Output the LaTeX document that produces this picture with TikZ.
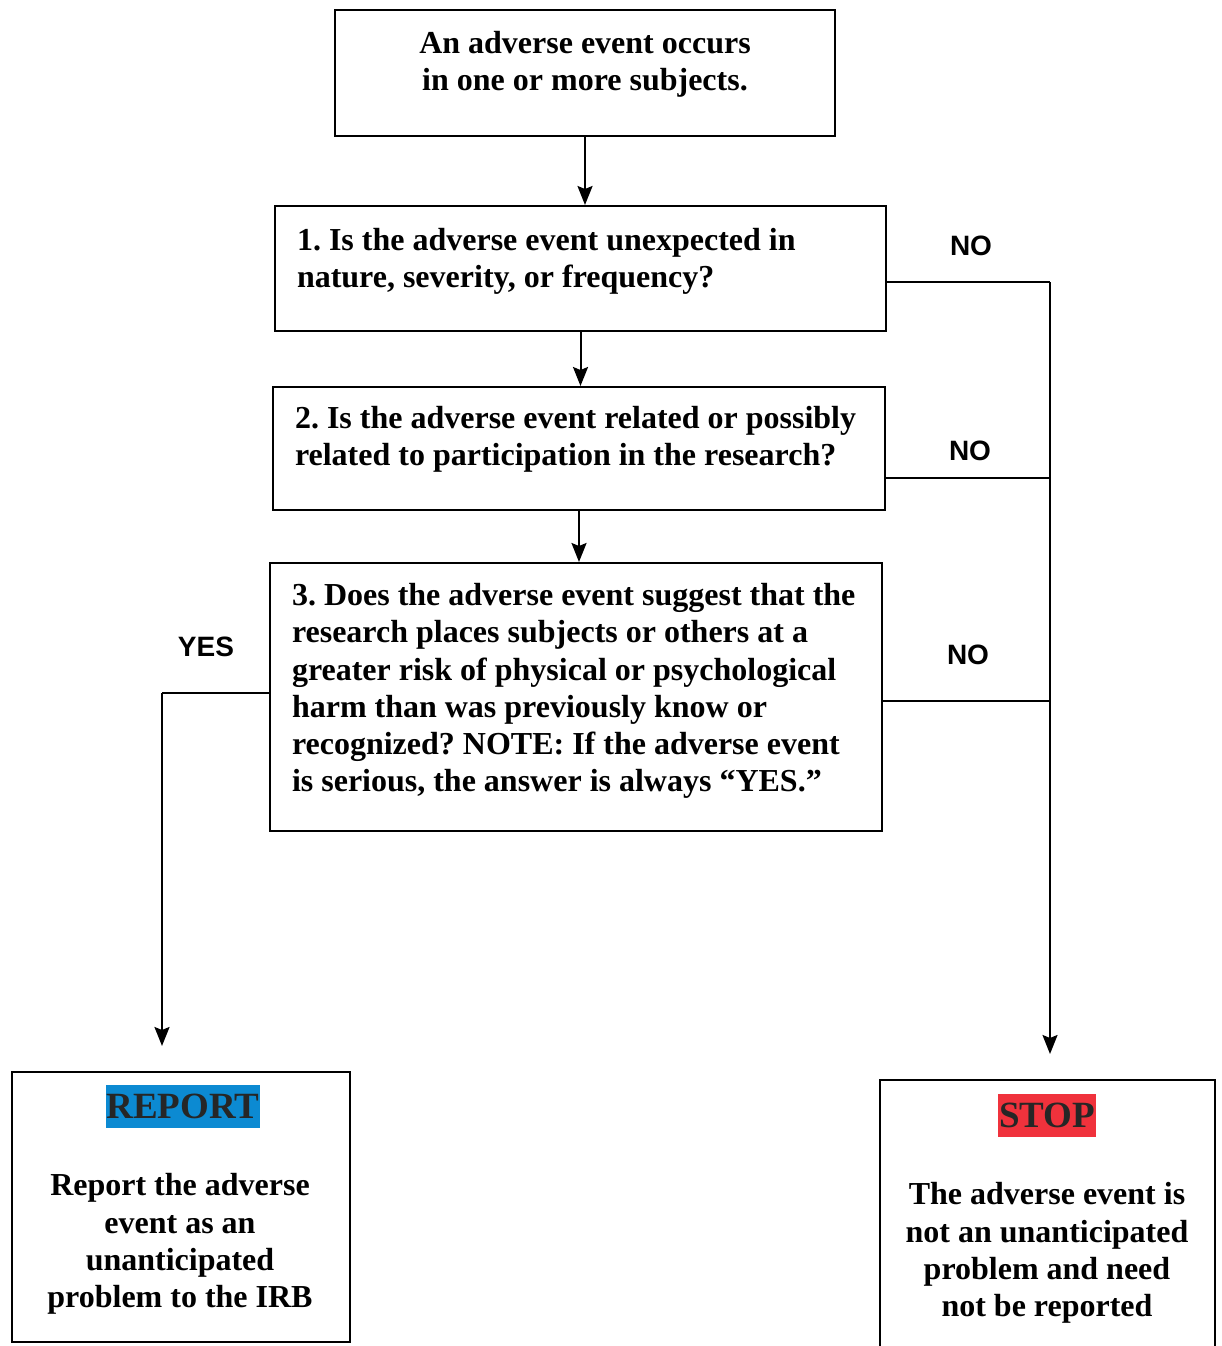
\documentclass[tikz,border=0pt]{standalone}
\usepackage{fontspec}
\setmainfont{Liberation Serif}
\newfontfamily\ansfont{Liberation Sans}
\usepackage{tikz}
\usepackage{xcolor}
\usetikzlibrary{arrows.meta, positioning}
\definecolor{reportblue}{RGB}{12,138,210}
\definecolor{stopred}{RGB}{240,50,60}
\newcommand{\qfont}{\fontsize{16}{18.6}\selectfont\bfseries\frenchspacing}

\begin{document}
\begin{tikzpicture}[x=0.5pt, y=-0.5pt, line width=1pt, arr/.style={-{Stealth[length=9.5pt, width=7.5pt, inset=1.5pt]}},
    box/.style={rectangle, draw, inner sep=0pt},
    qtext/.style={inner sep=0pt, font=\qfont, align=left, anchor=west},
    ctext/.style={inner sep=0pt, font=\qfont, align=center},
    ans/.style={inner sep=0pt, font=\ansfont\fontsize{14}{16}\selectfont\bfseries},
    tag/.style={inner xsep=0.5pt, inner ysep=0pt, minimum height=21.5pt, font=\fontsize{18.5}{20}\selectfont\bfseries, text=black!85}]

            \useasboundingbox (0,0) rectangle (1222,1346);
            \clip (0,0) rectangle (1222,1346);

            \node[box, minimum width=250pt, minimum height=63pt] (Q0) at (585,73) {};
            \node[box, minimum width=305.5pt, minimum height=62.5pt] (Q1) at (580.5,268.5) {};
            \node[box, minimum width=306pt, minimum height=61.5pt] (Q2) at (579,448.5) {};
            \node[box, minimum width=306pt, minimum height=134pt] (Q3) at (576,697) {};
            \node[box, minimum width=169pt, minimum height=135pt] (report) at (181,1207) {};
            \node[box, minimum width=167.5pt, minimum height=145pt] (stop) at (1047.5,1225) {};

            \node[ctext] (t0) at (585,64) {An adverse event occurs\\in one or more subjects.};
            \node[qtext] (t1) at (296,261) {1. Is the adverse event unexpected in\\nature, severity, or frequency?};
            \node[qtext] (t2) at (294,439) {2. Is the adverse event related or possibly\\related to participation in the research?};
            \node[qtext] (t3) at (291,691) {3. Does the adverse event suggest that the\\research places subjects or others at a\\greater risk of physical or psychological\\harm than was previously know or\\recognized? NOTE: If the adverse event\\is serious, the answer is always ``YES.''};

            \node[tag, fill=reportblue] (rtag) at (183,1106) {REPORT};
            \node[ctext] (rtext) at (180,1244) {Report the adverse\\event as an\\unanticipated\\problem to the IRB};
            \node[tag, fill=stopred] (stag) at (1047,1115) {STOP};
            \node[ctext] (stext) at (1047,1253) {The adverse event is\\not an unanticipated\\problem and need\\not be reported};

            \coordinate (n1) at (1050,282);
            \coordinate (n2) at (1050,478);
            \coordinate (n3) at (1050,701);
            \coordinate (y1) at (162,693);

            \node[ans] (no1) at (971,246) {NO};
            \node[ans] (no2) at (970,451) {NO};
            \node[ans] (no3) at (968,655) {NO};
            \node[ans] (yes) at (206,647) {YES};

            \draw[arr] (Q0.south) -- (Q0.south |- Q1.north);
            \draw[arr] (Q1.south) -- (Q1.south |- Q2.north);
            \draw[arr] (Q2.south) -- (Q2.south |- Q3.north);

            \draw (Q1.east |- n1) -- (n1);
            \draw (Q2.east |- n2) -- (n2);
            \draw (Q3.east |- n3) -- (n3);
            \draw[arr, shorten >=12.5pt] (n1) -- (n1 |- stop.north);

            \draw (Q3.west |- y1) -- (y1);
            \draw[arr, shorten >=12.5pt] (y1) -- (y1 |- report.north);

        \end{tikzpicture}
\end{document}
